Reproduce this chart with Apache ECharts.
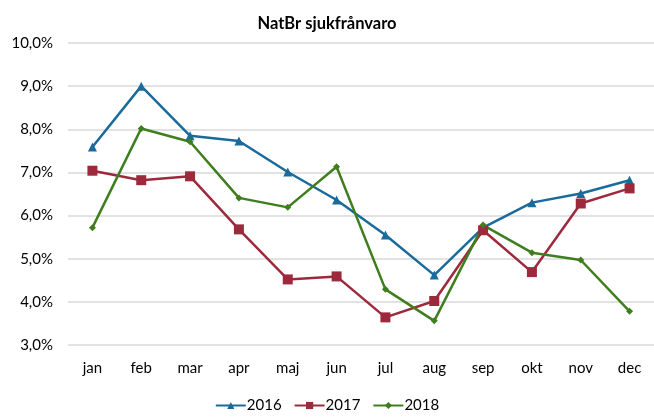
<!DOCTYPE html>
<html>
<head>
<meta charset="utf-8">
<script src="https://cdn.jsdelivr.net/npm/echarts@6/dist/echarts.min.js"></script>
<style>
  html, body { margin: 0; padding: 0; background: #fff; }
  #main { width: 654px; height: 419px; }
</style>
</head>
<body>
<div id="main"></div>
<script>
var months = ['jan', 'feb', 'mar', 'apr', 'maj', 'jun', 'jul', 'aug', 'sep', 'okt', 'nov', 'dec'];
var y2016 = [7.59, 9.0, 7.85, 7.73, 7.01, 6.36, 5.55, 4.62, 5.72, 6.30, 6.51, 6.82];
var y2017 = [7.04, 6.82, 6.91, 5.68, 4.52, 4.59, 3.64, 4.02, 5.66, 4.69, 6.28, 6.63];
var y2018 = [5.72, 8.02, 7.71, 6.41, 6.19, 7.13, 4.29, 3.56, 5.78, 5.14, 4.97, 3.78];

var font = "Lato, 'Open Sans', sans-serif";
var myChart = echarts.init(document.getElementById('main'));
var option = {
  animation: false,
  title: {
    text: 'NatBr sjukfrånvaro',
    left: 'center',
    top: 10,
    textStyle: { fontFamily: font, fontSize: 16.5, fontWeight: 'bold', color: '#000' }
  },
  legend: {
    bottom: 1,
    left: 'center',
    itemWidth: 30,
    itemHeight: 9,
    itemGap: 12,
    textStyle: { fontFamily: font, fontSize: 15, color: '#000', padding: [0, 0, 0, -4] },
    data: ['2016', '2017', '2018']
  },
  grid: { left: 68, top: 43, width: 593, height: 302 },
  xAxis: {
    type: 'category',
    data: months,
    boundaryGap: true,
    axisLine: { show: false },
    axisTick: { show: false },
    axisLabel: { fontFamily: font, fontSize: 15, color: '#000', margin: 16 }
  },
  yAxis: {
    type: 'value',
    min: 3,
    max: 10,
    interval: 1,
    axisLine: { show: false },
    axisTick: { show: false },
    splitLine: { lineStyle: { color: '#d9d9d9', width: 1.5 } },
    axisLabel: {
      fontFamily: font, fontSize: 15, color: '#000', margin: 15,
      formatter: function (v) { return v.toFixed(1).replace('.', ',') + '%'; }
    }
  },
  series: [{
    name: '2016',
    type: 'line',
    data: y2016,
    symbol: 'triangle',
    symbolSize: 9,
    color: '#1b6a9c',
    lineStyle: { width: 2.5 }
  }, {
    name: '2017',
    type: 'line',
    data: y2017,
    symbol: 'rect',
    symbolSize: 10,
    color: '#9c2a3c',
    lineStyle: { width: 2.5 }
  }, {
    name: '2018',
    type: 'line',
    data: y2018,
    symbol: 'diamond',
    symbolSize: 7,
    color: '#3f7e1f',
    lineStyle: { width: 2.5 }
  }]
};
myChart.setOption(option);
</script>
</body>
</html>
